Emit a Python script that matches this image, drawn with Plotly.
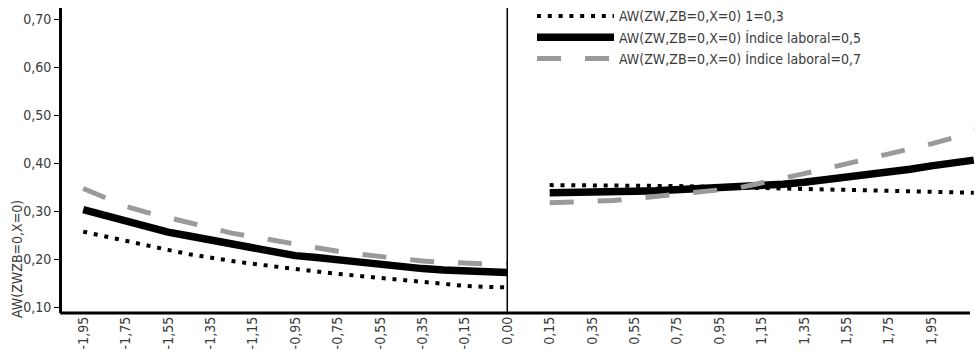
import plotly.graph_objects as go

# Categories (x positions, 0.1 steps; "0,05" is an empty gap between the two segments)
x_cats = ["-1,95", "-1,85", "-1,75", "-1,65", "-1,55", "-1,45", "-1,35", "-1,25", "-1,15", "-1,05",
          "-0,95", "-0,85", "-0,75", "-0,65", "-0,55", "-0,45", "-0,35", "-0,25", "-0,15", "-0,05",
          "0,00", "0,05",
          "0,15", "0,25", "0,35", "0,45", "0,55", "0,65", "0,75", "0,85", "0,95", "1,05",
          "1,15", "1,25", "1,35", "1,45", "1,55", "1,65", "1,75", "1,85", "1,95", "2,05", "2,15"]

tick_labels = ["-1,95", "-1,75", "-1,55", "-1,35", "-1,15", "-0,95", "-0,75", "-0,55", "-0,35", "-0,15",
               "0,00", "0,15", "0,35", "0,55", "0,75", "0,95", "1,15", "1,35", "1,55", "1,75", "1,95"]

y_ticks = [0.10, 0.20, 0.30, 0.40, 0.50, 0.60, 0.70]
y_tick_labels = ["0,10", "0,20", "0,30", "0,40", "0,50", "0,60", "0,70"]

names = ["AW(ZW,ZB=0,X=0) 1=0,3",
         "AW(ZW,ZB=0,X=0) Índice laboral=0,5",
         "AW(ZW,ZB=0,X=0) Índice laboral=0,7"]

aw_03 = [0.257, 0.247, 0.237, 0.228, 0.219, 0.210, 0.202, 0.196, 0.190, 0.184,
         0.179, 0.174, 0.169, 0.165, 0.160, 0.155, 0.151, 0.147, 0.144, 0.142,
         0.141, None,
         0.354, 0.354, 0.353, 0.353, 0.353, 0.352, 0.352, 0.351, 0.350, 0.349,
         0.348, 0.347, 0.346, 0.345, 0.344, 0.343, 0.342, 0.341, 0.340, 0.339, 0.338]

aw_05 = [0.303, 0.291, 0.279, 0.267, 0.256, 0.248, 0.240, 0.231, 0.222, 0.213,
         0.207, 0.203, 0.198, 0.194, 0.190, 0.185, 0.180, 0.177, 0.175, 0.173,
         0.172, None,
         0.338, 0.338, 0.339, 0.340, 0.341, 0.342, 0.344, 0.345, 0.347, 0.349,
         0.352, 0.356, 0.360, 0.365, 0.370, 0.375, 0.381, 0.387, 0.394, 0.399, 0.406]

aw_07 = [0.347, 0.328, 0.310, 0.297, 0.287, 0.276, 0.265, 0.254, 0.246, 0.238,
         0.232, 0.224, 0.216, 0.210, 0.205, 0.200, 0.196, 0.193, 0.191, 0.190,
         0.190, None,
         0.317, 0.318, 0.319, 0.322, 0.326, 0.330, 0.335, 0.340, 0.344, 0.349,
         0.358, 0.368, 0.378, 0.388, 0.398, 0.409, 0.420, 0.430, 0.440, 0.452, 0.470]

FONT = "DejaVu Sans Condensed, Liberation Sans Narrow, Arial Narrow, sans-serif"
TXT = "#3a3a3a"
FS = 14

fig = go.Figure()
fig.add_trace(go.Scatter(x=x_cats, y=aw_03, name=names[0], mode="lines",
                         line=dict(color="black", width=4, dash="4px,6.8px")))
fig.add_trace(go.Scatter(x=x_cats, y=aw_05, name=names[1], mode="lines",
                         line=dict(color="black", width=7.5)))
fig.add_trace(go.Scatter(x=x_cats, y=aw_07, name=names[2], mode="lines",
                         line=dict(color="#9a9a9a", width=5, dash="24px,24px")))

# vertical separator at 0,00
fig.add_shape(type="line", xref="x", yref="paper", x0="0,00", x1="0,00", y0=0, y1=1,
              line=dict(color="black", width=1.5))
# bottom axis line (ends slightly before right edge)
fig.add_shape(type="line", xref="paper", yref="paper", x0=-0.002, x1=(970 - 62) / 916, y0=0, y1=0,
              line=dict(color="black", width=3))

fig.add_annotation(text="AW(ZWZB=0,X=0)", xref="paper", yref="y", x=(17 - 62) / 916, y=0.20,
                   textangle=-90, showarrow=False, xanchor="center", yanchor="middle",
                   font=dict(family=FONT, size=FS, color=TXT))

fig.update_layout(
    width=978, height=352,
    margin=dict(l=62, r=0, t=8, b=39),
    plot_bgcolor="white", paper_bgcolor="white",
    font=dict(family=FONT, size=FS, color=TXT),
    showlegend=True,
    legend=dict(x=(532 - 62) / 916, y=1.025, xanchor="left", yanchor="top",
                bgcolor="rgba(0,0,0,0)", borderwidth=0, itemwidth=77,
                font=dict(family=FONT, size=FS, color=TXT), tracegroupgap=0),
)
fig.update_xaxes(type="category", categoryorder="array", categoryarray=x_cats,
                 range=[-1, 42.2], tickmode="array", tickvals=tick_labels, ticktext=tick_labels,
                 tickangle=-90, showgrid=False, zeroline=False, showline=False, ticks="",
                 tickfont=dict(family=FONT, size=FS, color=TXT))
fig.update_yaxes(range=[0.0875, 0.723], tickmode="array", tickvals=y_ticks, ticktext=y_tick_labels,
                 showgrid=False, zeroline=False, showline=True, linecolor="black", linewidth=3,
                 ticks="outside", ticklen=5, tickcolor="black", tickwidth=1,
                 tickfont=dict(family=FONT, size=FS, color=TXT))

fig.write_html("out.html")
